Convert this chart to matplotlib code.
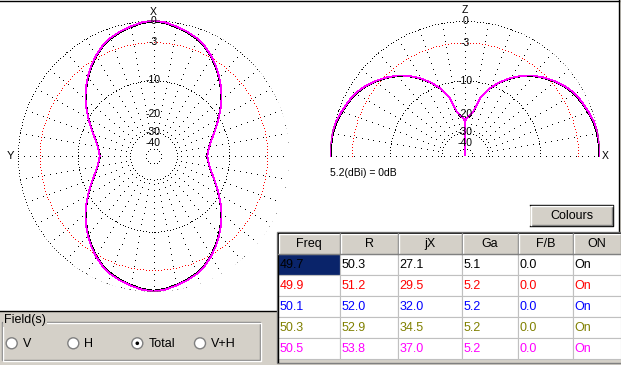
import numpy as np
import matplotlib
matplotlib.use("Agg")
import matplotlib.pyplot as plt
from matplotlib.patches import Rectangle, Circle

plt.rcParams['font.family'] = ['Liberation Sans', 'DejaVu Sans']

# azimuth pattern (dB rel. 5.2 dBi), angle from X axis, one quadrant
az_deg = [0, 5, 10, 15, 20, 25, 30, 35, 40, 45, 50, 55, 60, 65, 70, 75, 80, 85, 90]
az_db = [0.0, -0.17, -0.5, -0.85, -1.28, -1.9, -2.75, -3.7, -4.8, -5.95,
         -7.25, -8.65, -10.1, -11.5, -12.85, -14.0, -14.9, -15.5, -15.85]

# elevation pattern, angle above horizon (X side), up to zenith
el_deg = [0, 5, 10, 15, 20, 25, 30, 35, 40, 45, 50, 55, 60, 65, 70, 75, 80, 85, 89, 90]
el_db = [0.0, 0.0, -0.04, -0.2, -0.5, -0.8, -1.15, -1.75, -2.5, -3.35,
         -4.3, -5.5, -7.0, -8.7, -10.8, -13.7, -19.2, -21.2, -22.1, -99.0]

# table
freq = [49.7, 49.9, 50.1, 50.3, 50.5]
res_r = [50.3, 51.2, 52.0, 52.9, 53.8]
res_jx = [27.1, 29.5, 32.0, 34.5, 37.0]
gain = [5.1, 5.2, 5.2, 5.2, 5.2]
fb = [0.0, 0.0, 0.0, 0.0, 0.0]
on = ["On", "On", "On", "On", "On"]
headers = ["Freq", "R", "jX", "Ga", "F/B", "ON"]
row_colors = ["#000000", "#ff0000", "#0000ff", "#808000", "#ff00ff"]

ref_gain = 5.2
ring_db = [0, -3, -10, -30, -50]
label_db = [0, -3, -10, -20, -30, -40]
fields = ["V", "H", "Total", "V+H"]
GRAY = "#d4d0c8"
DARK = "#808080"


def rho(db):
    # ARRL log scale: 0.89 per 2 dB
    return 0.89 ** (-np.asarray(db, dtype=float) / 2)


def mirror(deg, db):
    # reflect a 0..90 curve onto 90..180
    return deg + [180 - d for d in deg[-2::-1]], db + db[-2::-1]


fig = plt.figure(figsize=(6.21, 3.65), dpi=100, facecolor=GRAY)

bg = fig.add_axes([0, 0, 1, 1], zorder=0)
bg.set_xlim(0, 621)
bg.set_ylim(365, 0)
bg.axis("off")
bg.add_patch(Rectangle((0, 0), 619, 311, facecolor="white", edgecolor="none"))
bg.plot([0, 619], [0.5, 0.5], color="black", lw=1)
bg.plot([619, 619], [0, 311], color="black", lw=1)
bg.plot([0, 277], [311, 311], color="black", lw=1)
bg.text(330, 173, "5.2(dBi) = 0dB", fontsize=7.5, ha="left", va="center")

dot = dict(ls="none", marker="s", ms=0.7, mew=0, antialiased=False)


def polar_axes(rect, zero, span, radius_px):
    ax = fig.add_axes(rect, projection="polar", zorder=1)
    ax.set_theta_zero_location(zero)
    ax.patch.set_visible(False)
    ax.spines["polar"].set_visible(False)
    ax.grid(False)
    ax.set_xticks([])
    ax.set_yticks([])
    # dotted rings, a dot every ~3 px
    for db in ring_db:
        rr = float(rho(db))
        n = max(int(np.radians(span) * rr * radius_px / 3), 8)
        th = np.linspace(0, np.radians(span), n)
        ax.plot(th, np.full_like(th, rr), color="red" if db == -3 else "black", **dot)
    # dotted spokes every 10 degrees, a dot every ~6 px
    stop = span + 1 if span < 360 else span
    for a in range(0, stop, 10):
        r0 = 0 if span < 360 and a in (0, 180) else float(rho(-30))
        rr = np.arange(1.0, r0, -6 / radius_px)
        ax.plot(np.full_like(rr, np.radians(a)), rr, color="black", **dot)
    return ax


# azimuth plot
ax1 = polar_axes([18 / 621, 73.5 / 365, 271 / 621, 271 / 365], "N", 360, 135.5)
half_deg, half_db = mirror(az_deg, az_db)
full_deg = half_deg + [360 - d for d in half_deg[-2::-1]]
full_db = half_db + half_db[-2::-1]
for g, c in zip(gain, row_colors):
    ax1.plot(np.radians(full_deg), rho(np.array(full_db) + g - ref_gain), color=c,
             lw=0.55, antialiased=False)
for db in label_db:
    ax1.text(0, rho(db), str(db), fontsize=7.5, ha="center", va="center")
ax1.text(0, 1.065, "X", fontsize=7.5, ha="center", va="center")
ax1.text(np.pi / 2, 1.055, "Y", fontsize=8, ha="center", va="center")
ax1.set_ylim(0, 1)

# elevation plot
ax2 = polar_axes([330 / 621, 74 / 365, 270 / 621, 270 / 365], "E", 180, 135)
e_deg, e_db = mirror(el_deg, el_db)
for g, c in zip(gain, row_colors):
    ax2.plot(np.radians(e_deg), rho(np.array(e_db) + g - ref_gain), color=c,
             lw=0.55, antialiased=False)
for db in label_db:
    ax2.text(np.pi / 2, rho(db), str(db), fontsize=7.5, ha="center", va="center")
ax2.text(np.pi / 2, 1.08, "Z", fontsize=7.5, ha="center", va="center")
ax2.text(0, 1.037, "X", fontsize=7.5, ha="center", va="center")
ax2.set_ylim(0, 1)

# controls
ui = fig.add_axes([0, 0, 1, 1], zorder=3)
ui.set_xlim(0, 621)
ui.set_ylim(365, 0)
ui.axis("off")
ui.patch.set_visible(False)

# Colours button
bx, by, bw, bh = 530, 205, 83, 21
ui.add_patch(Rectangle((bx, by), bw, bh, facecolor=GRAY, edgecolor="none"))
ui.plot([bx, bx + bw, bx + bw, bx], [by + bh, by + bh, by, by], color="black", lw=1)
ui.plot([bx + 1, bx + bw - 1, bx + bw - 1], [by + bh - 1, by + bh - 1, by + 1], color=DARK, lw=1)
ui.plot([bx + 0.5, bx + 0.5, bx + bw - 1], [by + bh - 1, by + 0.5, by + 0.5], color="white", lw=1)
ui.text(bx + bw / 2, by + bh / 2 + 0.5, "Colours", fontsize=9, ha="center", va="center")

# table
col_x = [278, 340, 398, 462, 518, 573, 621]
top, hh, rh = 233, 21, 21
ui.add_patch(Rectangle((276.5, 231.5), 345, 131, facecolor=GRAY, edgecolor=DARK, lw=1))
ui.plot([277.5, 277.5, 621], [362, 232.5, 232.5], color="black", lw=1)
for j, h in enumerate(headers):
    x0, x1 = col_x[j], col_x[j + 1]
    ui.add_patch(Rectangle((x0, top), x1 - x0, hh, facecolor=GRAY, edgecolor="none"))
    ui.plot([x0 + 0.5, x0 + 0.5, x1 - 1], [top + hh - 1, top + 0.5, top + 0.5], color="white", lw=1)
    ui.plot([x0, x1 - 0.5, x1 - 0.5], [top + hh - 0.5, top + hh - 0.5, top], color=DARK, lw=1)
    ui.text((x0 + x1) / 2, top + hh / 2 + 0.5, h, fontsize=9, ha="center", va="center")

rows = list(zip([f"{v:.1f}" for v in freq], [f"{v:.1f}" for v in res_r],
                [f"{v:.1f}" for v in res_jx], [f"{v:.1f}" for v in gain],
                [f"{v:.1f}" for v in fb], on))
for i, row in enumerate(rows):
    y0 = top + hh + i * rh
    for j, val in enumerate(row):
        x0, x1 = col_x[j], col_x[j + 1]
        fc = "#0a246a" if (i, j) == (0, 0) else "white"
        ui.add_patch(Rectangle((x0, y0), x1 - x0, rh, facecolor=fc, edgecolor="#c0c0c0", lw=0.8))
        ui.text(x0 + 1.5, y0 + rh / 2 + 0.5, val, fontsize=9, ha="left", va="center", color=row_colors[i])

# Field(s) group
ui.add_patch(Rectangle((1.5, 321.5), 258, 38, facecolor="none", edgecolor=DARK, lw=1))
ui.add_patch(Rectangle((2.5, 322.5), 258, 38, facecolor="none", edgecolor="white", lw=1))
ui.text(4, 320.5, "Field(s)", fontsize=9, ha="left", va="center",
        bbox=dict(facecolor=GRAY, edgecolor="none", pad=0.5))
radio_x = [11.7, 73.3, 137.3, 200]
for k, name in enumerate(fields):
    cx = radio_x[k]
    ui.add_patch(Circle((cx, 343.3), 5.5, facecolor="white", edgecolor=DARK, lw=1))
    if name == "Total":
        ui.add_patch(Circle((cx, 343.3), 1.8, facecolor="black", edgecolor="none"))
    ui.text(cx + 11, 343.8, name, fontsize=9, ha="left", va="center")

fig.savefig("out.png", dpi=100, facecolor=GRAY)
